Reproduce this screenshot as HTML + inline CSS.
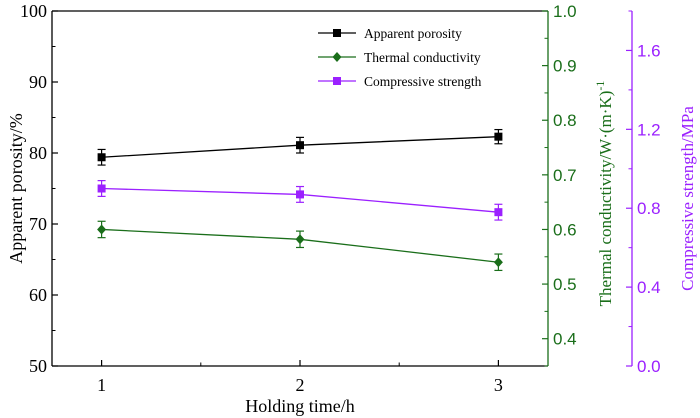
<!DOCTYPE html>
<html><head><meta charset="utf-8"><style>
body{margin:0;background:#fff;}
svg{display:block;font-family:"Liberation Serif",serif;}
.sans{font-family:"Liberation Sans",sans-serif;}
</style></head><body>
<svg id="chart" width="700" height="418" viewBox="0 0 700 418"></svg>
<script>
const categories=[1,2,3];
const porosity=[79.4,81.1,82.3];
const porosityErr=[1.1,1.1,1.0];
const thermal=[0.600,0.582,0.540];
const thermalErr=[0.015,0.015,0.015];
const compressive=[0.90,0.87,0.78];
const compressiveErr=[0.04,0.04,0.04];
const leftTicks=[50,60,70,80,90,100];
const greenTicks=[0.4,0.5,0.6,0.7,0.8,0.9,1.0];
const purpleTicks=[0.0,0.4,0.8,1.2,1.6];
const xTicks=[1,2,3];

const L=52,R=548,T=11,B=366,PR=632;
const GREEN="#1a6e1a",PURPLE="#9b20ff";
const x=v=>L+(v-0.75)/2.5*(R-L);
const yL=v=>B-(v-50)/50*(B-T);
const yG=v=>B-(v-0.35)/0.65*(B-T);
const yP=v=>B-v/1.8*(B-T);
const svg=document.getElementById('chart');
const NS="http://www.w3.org/2000/svg";
function mk(tag,attrs,parent){const e=document.createElementNS(NS,tag);for(const k in attrs)e.setAttribute(k,attrs[k]);(parent||svg).appendChild(e);return e;}
function txt(s,attrs){const e=mk('text',attrs);e.textContent=s;return e;}

let e=mk('line',{x1:L,y1:T,x2:R,y2:T,stroke:'#000','stroke-width':1.3});

e=mk('line',{x1:L,y1:T,x2:L,y2:B,stroke:'#000','stroke-width':1.3});

e=mk('line',{x1:L,y1:B,x2:R,y2:B,stroke:'#000','stroke-width':1.3});

e=mk('line',{x1:R,y1:T,x2:R,y2:B,stroke:GREEN,'stroke-width':1.3});

e=mk('line',{x1:PR,y1:T,x2:PR,y2:B,stroke:PURPLE,'stroke-width':1.3});


leftTicks.forEach((v,i)=>{
  mk('line',{x1:L,y1:yL(v),x2:L+6,y2:yL(v),stroke:'#000','stroke-width':1.2});
  if(i<leftTicks.length-1) mk('line',{x1:L,y1:yL(v+5),x2:L+3.5,y2:yL(v+5),stroke:'#000','stroke-width':1});
  const t=txt(v,{x:L-5,y:yL(v)+6,'text-anchor':'end','font-size':18});
  
});
xTicks.forEach(v=>{
  mk('line',{x1:x(v),y1:B,x2:x(v),y2:B-6,stroke:'#000','stroke-width':1.2});
  if(v<3) mk('line',{x1:x(v+0.5),y1:B,x2:x(v+0.5),y2:B-3.5,stroke:'#000','stroke-width':1});
  const t=txt(v,{x:x(v),y:B+25,'text-anchor':'middle','font-size':18});
  
});
greenTicks.forEach((v,i)=>{
  mk('line',{x1:R,y1:yG(v),x2:R-6,y2:yG(v),stroke:GREEN,'stroke-width':1.2});
  mk('line',{x1:R,y1:yG(v-0.05),x2:R-3.5,y2:yG(v-0.05),stroke:GREEN,'stroke-width':1});
  const t=txt(v.toFixed(1),{x:R+5,y:yG(v)+6,'font-size':17,fill:GREEN,class:'sans'});
  
});
purpleTicks.forEach(v=>{
  mk('line',{x1:PR,y1:yP(v),x2:PR-6,y2:yP(v),stroke:PURPLE,'stroke-width':1.2});
  mk('line',{x1:PR,y1:yP(v+0.2),x2:PR-3.5,y2:yP(v+0.2),stroke:PURPLE,'stroke-width':1});
  const t=txt(v.toFixed(1),{x:PR+5,y:yP(v)+6,'font-size':17,fill:PURPLE,class:'sans'});
  
});

e=txt('Apparent porosity/%',{x:0,y:0,'font-size':18,'text-anchor':'middle',transform:`translate(22,${(T+B)/2}) rotate(-90)`});

e=txt('Holding time/h',{x:300,y:412,'font-size':18,'text-anchor':'middle'});

e=mk('text',{x:0,y:0,'font-size':17,'text-anchor':'middle',fill:GREEN,transform:`translate(611,${(T+B)/2+5}) rotate(-90)`});
e.innerHTML='Thermal conductivity/W·(m·K)<tspan dy="-7" font-size="12">-1</tspan>';

e=txt('Compressive strength/MPa',{x:0,y:0,'font-size':17,'text-anchor':'middle',fill:PURPLE,transform:`translate(693,${(T+B)/2+10}) rotate(-90)`});


function series(vals,errs,yf,color,marker,name){
  const pts=vals.map((v,i)=>[x(categories[i]),yf(v)]);
  const pl=mk('polyline',{points:pts.map(p=>p.join(',')).join(' '),fill:'none',stroke:color,'stroke-width':1.3});
  
  vals.forEach((v,i)=>{
    const cx=pts[i][0],y1=yf(v+errs[i]),y2=yf(v-errs[i]);
    mk('line',{x1:cx,y1:y1,x2:cx,y2:y2,stroke:color,'stroke-width':1.2});
    mk('line',{x1:cx-4,y1:y1,x2:cx+4,y2:y1,stroke:color,'stroke-width':1.2});
    mk('line',{x1:cx-4,y1:y2,x2:cx+4,y2:y2,stroke:color,'stroke-width':1.2});
    drawMarker(cx,pts[i][1],color,marker,name+'-point');
  });
}
function drawMarker(cx,cy,color,marker,name){
  let m;
  if(marker==='sq') m=mk('rect',{x:cx-4,y:cy-4,width:8,height:8,fill:color});
  else m=mk('polygon',{points:`${cx},${cy-5} ${cx+4.5},${cy} ${cx},${cy+5} ${cx-4.5},${cy}`,fill:color});
  
}
series(porosity,porosityErr,yL,'#000','sq','porosity');
series(thermal,thermalErr,yG,GREEN,'dia','thermal');
series(compressive,compressiveErr,yP,PURPLE,'sq','compressive');

[['Apparent porosity','#000','sq',33],['Thermal conductivity',GREEN,'dia',57],['Compressive strength',PURPLE,'sq',81]].forEach(l=>{
  const g=mk('g',{});
  
  mk('line',{x1:318,y1:l[3],x2:356,y2:l[3],stroke:l[1],'stroke-width':1.3},g);
  drawMarker(337,l[3],l[1],l[2],'legend-marker');
  const t=mk('text',{x:364,y:l[3]+5,'font-size':13.5},g);t.textContent=l[0];
});
</script>
</body></html>
